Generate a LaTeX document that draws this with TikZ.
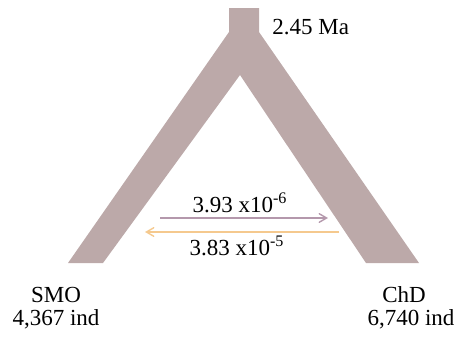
\documentclass[tikz,border=0pt]{standalone}
\usepackage{fontspec}
\setmainfont{Liberation Serif}
\usetikzlibrary{arrows}
\definecolor{branch}{RGB}{188,169,169}
\definecolor{flowone}{RGB}{180,152,172}
\definecolor{flowtwo}{RGB}{245,201,142}

\begin{document}
\begin{tikzpicture}[x=0.5pt,y=-0.5pt,>=angle 60,
  lbl/.style={font=\fontsize{11.5}{13}\selectfont,inner sep=0pt},
  pop/.style={font=\fontsize{11.5}{13}\selectfont,inner sep=0pt},
  flow/.style={->,line width=0.7pt}]
\useasboundingbox (0,0) rectangle (466,337);
%tree shape
\fill[branch] (229,8) -- (259,8) -- (259,32) -- (419,263) -- (366,263)
  -- (240,75) -- (103,263) -- (68,263) -- (229,32) -- cycle;
\node[lbl,anchor=west] (age) at (272,27) {2.45 Ma};
%populations
\node[pop] (smo) at (56,295) {SMO};
\node[pop] (smoN) at (56,319) {4,367 ind};
\node[pop] (chd) at (404,295) {ChD};
\node[pop] (chdN) at (411,319) {6,740 ind};
%migration
\coordinate (m1a) at (160,218);
\coordinate (m1b) at (328,218);
\coordinate (m2a) at (339,232);
\coordinate (m2b) at (145,232);
\draw[flow,flowone] (m1a) -- (m1b);
\draw[flow,flowtwo] (m2a) -- (m2b);
\node[lbl] (r1) at (240,203) {3.93 x10\textsuperscript{-6}};
\node[lbl] (r2) at (237,246) {3.83 x10\textsuperscript{-5}};
\end{tikzpicture}
\end{document}
